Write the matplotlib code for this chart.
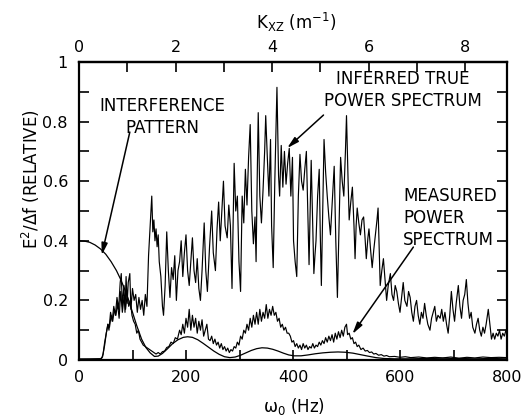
import matplotlib
matplotlib.use("Agg")
import matplotlib.pyplot as plt
from matplotlib.ticker import MultipleLocator, FixedLocator, FixedFormatter

# Interference pattern (smooth curve)
interf_hz = [0, 10, 20, 30, 40, 50, 60, 70, 78, 86,
             93, 100, 108, 117, 125, 133, 141, 148, 156, 165,
             175, 185, 195, 203, 212, 222, 232, 242, 252, 262,
             272, 282, 292, 302, 312, 322, 332, 342, 352, 362,
             372, 382, 392, 402, 415, 428, 442, 456, 470, 484,
             498, 512, 526, 540, 555, 570, 590, 620, 650, 680,
             710, 740, 770, 800]
interf_val = [0.40, 0.399, 0.395, 0.386, 0.373, 0.355, 0.33, 0.30, 0.27, 0.235,
              0.20, 0.16, 0.115, 0.07, 0.042, 0.024, 0.012, 0.013, 0.022, 0.037,
              0.055, 0.068, 0.076, 0.078, 0.076, 0.068, 0.056, 0.043, 0.030, 0.019,
              0.011, 0.008, 0.010, 0.016, 0.024, 0.032, 0.038, 0.041, 0.040, 0.036,
              0.030, 0.023, 0.017, 0.014, 0.014, 0.017, 0.021, 0.024, 0.026, 0.027,
              0.026, 0.023, 0.018, 0.013, 0.008, 0.005, 0.004, 0.004, 0.005, 0.006,
              0.005, 0.004, 0.005, 0.004]

# Measured power spectrum
meas_hz = [0, 42, 45, 48, 51, 54, 57, 60, 63, 66,
           69, 72, 75, 78, 81, 84, 87, 90, 93, 96,
           99, 102, 105, 108, 111, 114, 117, 120, 124, 128,
           132, 136, 140, 144, 148, 152, 156, 160, 164, 168,
           172, 176, 180, 184, 188, 191, 194, 197, 200, 203,
           206, 209, 212, 215, 218, 221, 224, 227, 230, 233,
           236, 239, 242, 245, 248, 251, 254, 257, 260, 263,
           266, 269, 272, 275, 278, 281, 284, 287, 290, 293,
           296, 299, 302, 305, 308, 311, 314, 317, 320, 323,
           326, 329, 332, 335, 338, 341, 344, 347, 350, 353,
           356, 359, 362, 365, 368, 371, 374, 377, 380, 383,
           386, 389, 392, 395, 398, 401, 404, 407, 410, 413,
           416, 419, 422, 425, 428, 431, 434, 437, 440, 443,
           446, 449, 452, 455, 458, 461, 464, 467, 470, 473,
           476, 479, 482, 485, 488, 491, 494, 497, 500, 502,
           505, 508, 511, 514, 517, 520, 523, 527, 531, 535,
           539, 543, 547, 551, 555, 560, 565, 570, 575, 580,
           590, 600, 610, 620, 635, 650, 665, 680, 695, 710,
           725, 740, 755, 770, 785, 800]
meas_val = [0.003, 0.004, 0.02, 0.06, 0.09, 0.12, 0.11, 0.15, 0.13, 0.17,
            0.15, 0.19, 0.14, 0.23, 0.16, 0.21, 0.17, 0.22, 0.18, 0.20,
            0.15, 0.13, 0.12, 0.09, 0.10, 0.07, 0.06, 0.05, 0.045, 0.04,
            0.035, 0.03, 0.025, 0.02, 0.025, 0.02, 0.028, 0.03, 0.042, 0.045,
            0.06, 0.055, 0.075, 0.07, 0.10, 0.085, 0.12, 0.09, 0.14, 0.11,
            0.17, 0.10, 0.15, 0.11, 0.14, 0.09, 0.13, 0.10, 0.135, 0.08,
            0.10, 0.12, 0.07, 0.065, 0.08, 0.055, 0.07, 0.05, 0.06, 0.04,
            0.055, 0.035, 0.045, 0.03, 0.04, 0.025, 0.035, 0.03, 0.045, 0.04,
            0.06, 0.05, 0.08, 0.07, 0.10, 0.09, 0.12, 0.10, 0.14, 0.11,
            0.15, 0.12, 0.16, 0.12, 0.17, 0.13, 0.16, 0.14, 0.186, 0.14,
            0.17, 0.15, 0.18, 0.15, 0.16, 0.13, 0.14, 0.11, 0.12, 0.10,
            0.11, 0.09, 0.09, 0.08, 0.06, 0.065, 0.045, 0.055, 0.04, 0.05,
            0.035, 0.055, 0.04, 0.05, 0.035, 0.045, 0.04, 0.055, 0.04, 0.05,
            0.045, 0.06, 0.05, 0.065, 0.055, 0.075, 0.06, 0.08, 0.065, 0.085,
            0.06, 0.09, 0.07, 0.095, 0.075, 0.10, 0.08, 0.11, 0.12, 0.085,
            0.09, 0.07, 0.075, 0.055, 0.06, 0.045, 0.05, 0.035, 0.04, 0.03,
            0.032, 0.025, 0.027, 0.02, 0.022, 0.016, 0.018, 0.013, 0.015, 0.011,
            0.012, 0.009, 0.011, 0.008, 0.010, 0.007, 0.009, 0.007, 0.010, 0.006,
            0.009, 0.007, 0.010, 0.008, 0.009, 0.008]

# Inferred true power spectrum
true_hz = [0, 20, 40, 44, 48, 51, 54, 56, 59, 62,
           65, 68, 71, 74, 77, 79, 81, 84, 86, 88,
           90, 92, 95, 97, 100, 103, 106, 109, 112, 115,
           118, 121, 124, 127, 130, 133, 136, 138, 140, 142,
           144, 146, 148, 150, 153, 156, 158, 161, 164, 167,
           170, 173, 176, 179, 182, 185, 188, 191, 194, 197,
           200, 203, 206, 209, 212, 215, 218, 221, 224, 227,
           230, 234, 237, 240, 244, 248, 251, 255, 258, 261,
           264, 267, 270, 273, 277, 280, 283, 286, 288, 290,
           293, 296, 299, 302, 305, 308, 311, 314, 317, 320,
           323, 326, 329, 331, 333, 335, 338, 341, 344, 347,
           349, 352, 355, 358, 360, 363, 366, 370, 373, 375,
           378, 381, 384, 387, 390, 393, 396, 399, 401, 404,
           407, 410, 413, 416, 419, 422, 425, 428, 430, 432,
           434, 437, 439, 441, 443, 446, 449, 451, 453, 456,
           458, 461, 464, 467, 470, 473, 477, 480, 483, 486,
           489, 492, 495, 498, 500, 503, 505, 508, 511, 514,
           516, 518, 520, 523, 526, 529, 532, 535, 537, 540,
           542, 545, 548, 551, 554, 557, 559, 561, 563, 566,
           569, 572, 575, 578, 582, 585, 588, 591, 594, 597,
           600, 603, 606, 609, 613, 616, 619, 622, 625, 628,
           631, 634, 637, 640, 643, 646, 649, 652, 656, 659,
           662, 665, 668, 671, 675, 678, 681, 684, 687, 690,
           693, 696, 699, 702, 705, 709, 712, 715, 718, 721,
           724, 727, 730, 733, 736, 740, 743, 746, 749, 752,
           755, 758, 761, 765, 768, 771, 774, 777, 780, 783,
           786, 789, 792, 795, 798, 800]
true_val = [0.003, 0.003, 0.004, 0.01, 0.05, 0.09, 0.12, 0.10, 0.16, 0.13,
            0.18, 0.15, 0.21, 0.17, 0.26, 0.29, 0.18, 0.25, 0.16, 0.28,
            0.19, 0.26, 0.29, 0.17, 0.24, 0.20, 0.22, 0.16, 0.21, 0.17,
            0.20, 0.15, 0.22, 0.18, 0.35, 0.45, 0.55, 0.43, 0.47, 0.40,
            0.44, 0.38, 0.42, 0.33, 0.28, 0.18, 0.15, 0.25, 0.43, 0.30,
            0.21, 0.31, 0.27, 0.35, 0.20, 0.30, 0.33, 0.40, 0.28, 0.36,
            0.42, 0.30, 0.25, 0.33, 0.41, 0.30, 0.26, 0.34, 0.24, 0.20,
            0.30, 0.46, 0.30, 0.23, 0.38, 0.50, 0.36, 0.30, 0.44, 0.53,
            0.40, 0.50, 0.60, 0.45, 0.41, 0.52, 0.45, 0.24, 0.45, 0.66,
            0.50, 0.55, 0.33, 0.23, 0.55, 0.46, 0.64, 0.52, 0.68, 0.79,
            0.50, 0.39, 0.48, 0.33, 0.60, 0.83, 0.55, 0.46, 0.57, 0.70,
            0.82, 0.68, 0.55, 0.74, 0.45, 0.31, 0.60, 0.915, 0.62, 0.55,
            0.72, 0.58, 0.70, 0.59, 0.66, 0.71, 0.55, 0.68, 0.40, 0.33,
            0.28, 0.55, 0.69, 0.60, 0.57, 0.64, 0.70, 0.48, 0.32, 0.50,
            0.67, 0.45, 0.29, 0.35, 0.40, 0.55, 0.64, 0.42, 0.25, 0.55,
            0.74, 0.63, 0.55, 0.48, 0.42, 0.52, 0.65, 0.40, 0.21, 0.45,
            0.68, 0.60, 0.55, 0.70, 0.82, 0.60, 0.47, 0.53, 0.58, 0.45,
            0.34, 0.45, 0.51, 0.46, 0.42, 0.47, 0.48, 0.40, 0.34, 0.41,
            0.44, 0.37, 0.31, 0.37, 0.42, 0.47, 0.51, 0.38, 0.25, 0.30,
            0.34, 0.27, 0.20, 0.25, 0.29, 0.22, 0.20, 0.25, 0.23, 0.19,
            0.16, 0.21, 0.26, 0.20, 0.18, 0.23, 0.21, 0.16, 0.13, 0.18,
            0.20, 0.15, 0.12, 0.16, 0.14, 0.19, 0.15, 0.12, 0.10, 0.14,
            0.16, 0.18, 0.13, 0.15, 0.14, 0.17, 0.13, 0.16, 0.12, 0.09,
            0.15, 0.23, 0.17, 0.13, 0.19, 0.25, 0.18, 0.14, 0.20, 0.22,
            0.27, 0.19, 0.14, 0.16, 0.11, 0.09, 0.12, 0.14, 0.10, 0.08,
            0.11, 0.09, 0.12, 0.17, 0.12, 0.07, 0.09, 0.07, 0.09, 0.08,
            0.10, 0.07, 0.09, 0.08, 0.10, 0.09]

y_ticks = [0, 0.2, 0.4, 0.6, 0.8, 1.0]
y_labels = ['0', '0.2', '0.4', '0.6', '0.8', '1']

# wavenumber scale on top: k = hz * K_PER_HZ
K_PER_HZ = 8.0 / 721.5

plt.rcParams['font.family'] = 'DejaVu Sans'

W, H = 525, 419
fig = plt.figure(figsize=(W / 100, H / 100), dpi=100)
ax = fig.add_axes([79 / W, 1 - 360 / H, (507 - 79) / W, (360 - 62) / H])

ax.plot(interf_hz, interf_val, color='black', lw=0.9)
ax.plot(meas_hz, meas_val, color='black', lw=0.85)
ax.plot(true_hz, true_val, color='black', lw=0.85)

ax.set_xlim(0, 800)
ax.set_ylim(0, 1)

for s in ax.spines.values():
    s.set_linewidth(1.6)

ax.xaxis.set_major_locator(MultipleLocator(200))
ax.xaxis.set_minor_locator(MultipleLocator(100))
ax.yaxis.set_major_locator(FixedLocator(y_ticks))
ax.yaxis.set_major_formatter(FixedFormatter(y_labels))
ax.yaxis.set_minor_locator(MultipleLocator(0.1))
ax.tick_params(which='both', direction='in', length=7, width=1.2,
               labelsize=11.5, right=True, top=False)
ax.tick_params(axis='x', pad=7)
ax.tick_params(axis='y', pad=8)

top = ax.secondary_xaxis('top', functions=(lambda w: w * K_PER_HZ,
                                           lambda k: k / K_PER_HZ))
top.xaxis.set_major_locator(FixedLocator([0, 2, 4, 6, 8]))
top.xaxis.set_minor_locator(FixedLocator([1, 3, 5, 7]))
top.tick_params(which='both', direction='in', length=7, width=1.2,
                labelsize=11.5, pad=5)
top.spines['top'].set_linewidth(1.6)

fig.text(294 / W, 1 - 406 / H, r'$\mathregular{\omega_0}$ (Hz)',
         ha='center', va='center', fontsize=12)
fig.text(296 / W, 1 - 22 / H, r'K$_{\mathregular{XZ}}$ (m$^{\mathregular{-1}}$)',
         ha='center', va='center', fontsize=12)
fig.text(31 / W, 1 - 179 / H, r'E$^{\mathregular{2}}$/$\Delta$f (RELATIVE)',
         ha='center', va='center', rotation=90, fontsize=12)

ax.text(155, 0.815, 'INTERFERENCE\nPATTERN', ha='center', va='center',
        fontsize=12, linespacing=1.3)
ax.text(606, 0.905, 'INFERRED TRUE\nPOWER SPECTRUM', ha='center', va='center',
        fontsize=12, linespacing=1.3)
ax.text(606, 0.477, 'MEASURED\nPOWER\nSPECTRUM', ha='left', va='center',
        fontsize=12, linespacing=1.3)

arrow = dict(arrowstyle='-|>,head_width=0.18,head_length=0.7',
             color='black', lw=1.1, shrinkA=0, shrinkB=0)
ax.annotate('', xy=(42.5, 0.352), xytext=(95, 0.765), arrowprops=arrow)
ax.annotate('', xy=(389, 0.711), xytext=(457, 0.822), arrowprops=arrow)
ax.annotate('', xy=(511, 0.087), xytext=(625, 0.379), arrowprops=arrow)

fig.savefig('out.png', dpi=100)
